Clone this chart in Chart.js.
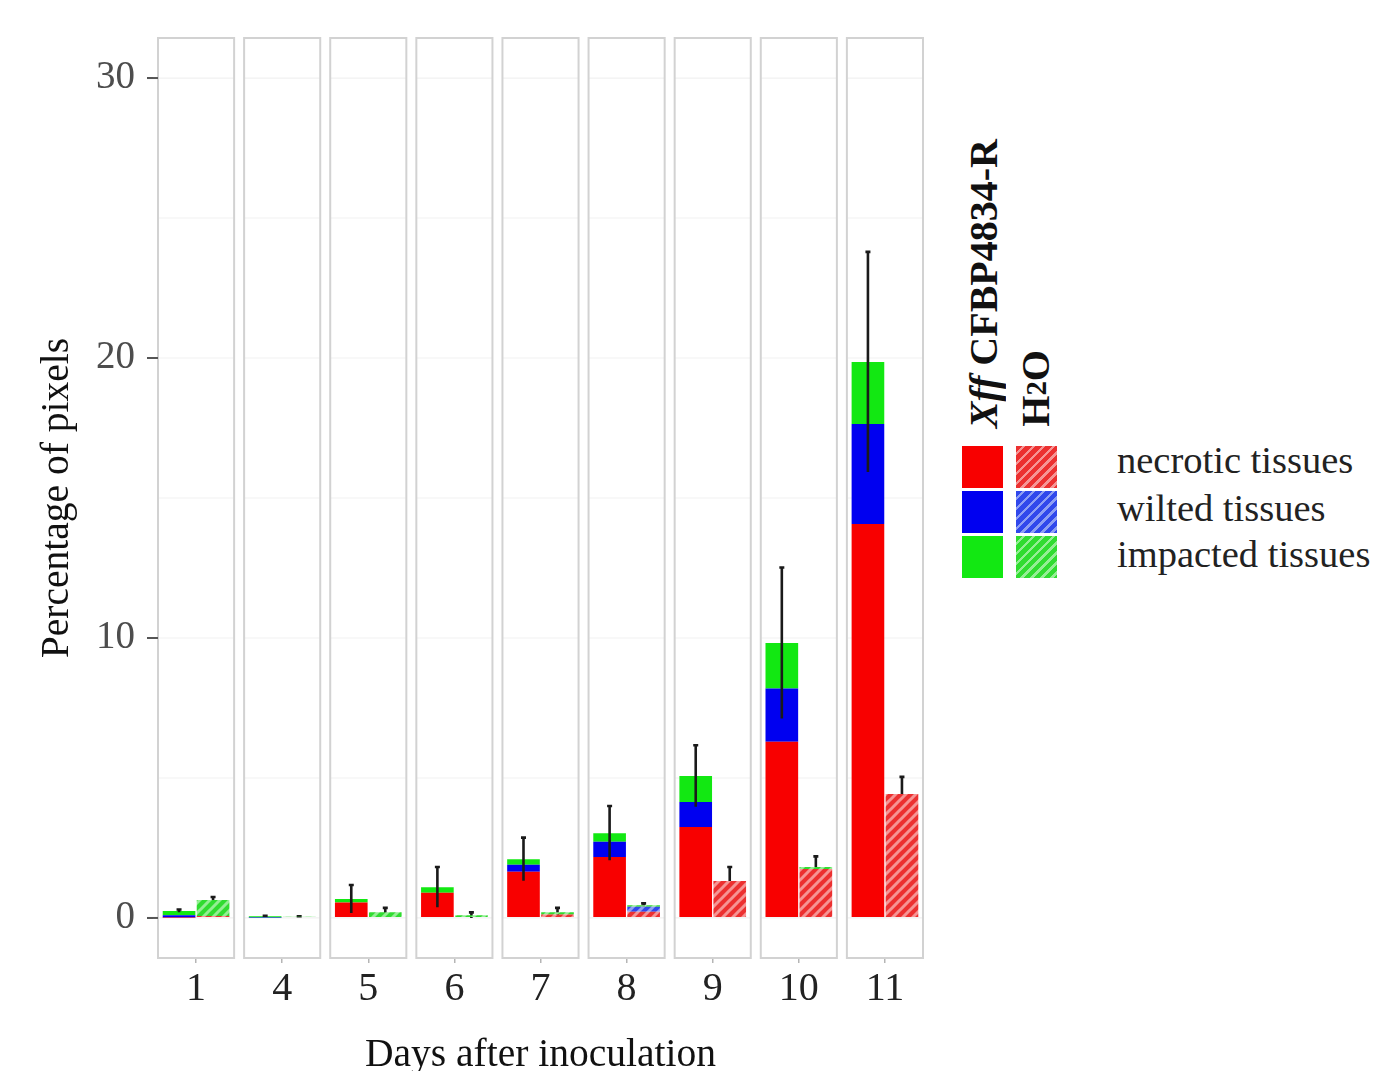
<!DOCTYPE html>
<html>
<head>
<meta charset="utf-8">
<title>Percentage of pixels by day</title>
<script src="https://cdn.jsdelivr.net/npm/chart.js@4.4.1/dist/chart.umd.min.js"></script>
<style>
    body {
        margin: 0;
        background: #fff;
        width: 1374px;
        height: 1071px;
        overflow: hidden;
        position: relative;
        font-family: 'Liberation Serif', 'Times New Roman', serif;
    }
    #js--chart { position: absolute; left: 0; top: 0; }
    .legend-title {
        position: absolute;
        font-weight: bold;
        font-size: 40px;
        line-height: 1;
        color: #111;
        writing-mode: vertical-rl;
        transform: rotate(180deg);
        white-space: nowrap;
    }
    .swatch { position: absolute; width: 41px; height: 42px; }
    .legend-label {
        position: absolute;
        left: 1117px;
        font-size: 38.5px;
        line-height: 1;
        color: #222;
        white-space: nowrap;
    }
</style>
</head>
<body>
<canvas id="js--chart" width="940" height="1071"></canvas>

<div class="legend-title" style="left:964px; bottom:643px;"><i>Xff</i> CFBP4834-R</div>
<div class="legend-title" style="left:1016px; bottom:644px;">H<span style="font-size:0.72em">2</span>O</div>

<div class="swatch" id="sw-xff-0" style="left:962px; top:446px;"></div>
<div class="swatch" id="sw-xff-1" style="left:962px; top:491px;"></div>
<div class="swatch" id="sw-xff-2" style="left:962px; top:536px;"></div>
<div class="swatch" id="sw-h2o-0" style="left:1016px; top:446px;"></div>
<div class="swatch" id="sw-h2o-1" style="left:1016px; top:491px;"></div>
<div class="swatch" id="sw-h2o-2" style="left:1016px; top:536px;"></div>

<div class="legend-label" style="top:441px;">necrotic tissues</div>
<div class="legend-label" style="top:489px;">wilted tissues</div>
<div class="legend-label" style="top:535px;">impacted tissues</div>

<script>
const days = ['1', '4', '5', '6', '7', '8', '9', '10', '11'];

// Xff CFBP4834-R (mean % of pixels)
const xffNecrotic = [0.02, 0.0, 0.55, 0.9, 1.65, 2.18, 3.25, 6.29, 14.07];
const xffWilted   = [0.08, 0.02, 0.0, 0.0, 0.25, 0.54, 0.89, 1.91, 3.57];
const xffImpacted = [0.15, 0.04, 0.13, 0.2, 0.2, 0.31, 0.93, 1.62, 2.22];
const xffSd       = [0.05, 0.02, 0.5, 0.72, 0.77, 0.97, 1.1, 2.7, 3.93];

// H2O control
const h2oNecrotic = [0.07, 0.0, 0.0, 0.0, 0.12, 0.22, 1.32, 1.75, 4.43];
const h2oWilted   = [0.0, 0.0, 0.0, 0.0, 0.0, 0.18, 0.0, 0.0, 0.0];
const h2oImpacted = [0.57, 0.04, 0.2, 0.1, 0.08, 0.05, 0.0, 0.07, 0.0];
const h2oSd       = [0.11, 0.02, 0.16, 0.1, 0.16, 0.07, 0.5, 0.38, 0.61];

const tissues = ['necrotic tissues', 'wilted tissues', 'impacted tissues'];
const yTicks = [0, 10, 20, 30];

const solidColors = ['#f80000', '#0000f0', '#12e812'];
const hatchBase   = ['#ec3030', '#3048ec', '#30dc30'];
const hatchStripe = ['#f69494', '#8e9ef4', '#94ee94'];

function hatch(base, stripe) {
    const s = 10;
    const c = document.createElement('canvas');
    c.width = s;
    c.height = s;
    const g = c.getContext('2d');
    g.fillStyle = base;
    g.fillRect(0, 0, s, s);
    g.strokeStyle = stripe;
    g.lineWidth = 3;
    g.beginPath();
    g.moveTo(-1, s + 1); g.lineTo(s + 1, -1);
    g.moveTo(-2, 2); g.lineTo(2, -2);
    g.moveTo(s - 2, s + 2); g.lineTo(s + 2, s - 2);
    g.stroke();
    return c;
}

const ctx = document.getElementById('js--chart').getContext('2d');
const hatchTiles = hatchBase.map((b, i) => hatch(b, hatchStripe[i]));
const hatchPatterns = hatchTiles.map(t => ctx.createPattern(t, 'repeat'));

// legend swatches
solidColors.forEach((c, i) => {
    document.getElementById('sw-xff-' + i).style.background = c;
    document.getElementById('sw-h2o-' + i).style.background =
        `repeating-linear-gradient(135deg, ${hatchBase[i]} 0px, ${hatchBase[i]} 4.5px, ${hatchStripe[i]} 4.5px, ${hatchStripe[i]} 7px)`;
});

function sum3(a, b, c) {
    return a.map((v, i) => v + b[i] + c[i]);
}

const xffTotal = sum3(xffNecrotic, xffWilted, xffImpacted);
const h2oTotal = sum3(h2oNecrotic, h2oWilted, h2oImpacted);

function drawErrors(chart, datasetIndex, totals, sds) {
    const {ctx, scales: {y}} = chart;
    const meta = chart.getDatasetMeta(datasetIndex);
    ctx.save();
    ctx.strokeStyle = '#1a1a1a';
    ctx.lineWidth = 2.6;
    meta.data.forEach((bar, i) => {
        const top = y.getPixelForValue(totals[i] + sds[i]);
        const bottom = y.getPixelForValue(Math.max(totals[i] - sds[i], 0));
        ctx.beginPath();
        ctx.moveTo(bar.x, top);
        ctx.lineTo(bar.x, bottom);
        ctx.moveTo(bar.x - 2.5, top);
        ctx.lineTo(bar.x + 2.5, top);
        ctx.stroke();
    });
    ctx.restore();
}

const facetPanels = {
    id: 'facetPanels',
    beforeDatasetsDraw(chart) {
        const {ctx, chartArea, scales: {x, y}} = chart;
        const step = x.getPixelForValue(1) - x.getPixelForValue(0);
        const half = step / 2 - 5;
        const gridValues = [];
        yTicks.forEach((t, i) => {
            gridValues.push(t);
            if (i < yTicks.length - 1) gridValues.push((t + yTicks[i + 1]) / 2);
        });
        ctx.save();
        days.forEach((d, i) => {
            const cx = x.getPixelForValue(i);
            const left = cx - half;
            const right = cx + half;
            ctx.fillStyle = '#fff';
            ctx.fillRect(left, chartArea.top, right - left, chartArea.bottom - chartArea.top);
            ctx.strokeStyle = '#f1f1f1';
            ctx.lineWidth = 1.2;
            gridValues.forEach(v => {
                const py = y.getPixelForValue(v);
                ctx.beginPath();
                ctx.moveTo(left, py);
                ctx.lineTo(right, py);
                ctx.stroke();
            });
            ctx.strokeStyle = '#d2d2d2';
            ctx.lineWidth = 2;
            ctx.strokeRect(left, chartArea.top, right - left, chartArea.bottom - chartArea.top);
        });
        // y tick marks reach up to the first panel, like the facet axis
        ctx.strokeStyle = '#555';
        ctx.lineWidth = 2;
        const firstLeft = x.getPixelForValue(0) - half;
        yTicks.forEach(v => {
            const py = y.getPixelForValue(v);
            ctx.beginPath();
            ctx.moveTo(chartArea.left - 6, py);
            ctx.lineTo(firstLeft, py);
            ctx.stroke();
        });
        ctx.restore();
        // H2O error bars sit under the hatched bars
        drawErrors(chart, 5, h2oTotal, h2oSd);
    },
    afterDatasetsDraw(chart) {
        drawErrors(chart, 2, xffTotal, xffSd);
    }
};

const datasets = [];
[xffNecrotic, xffWilted, xffImpacted].forEach((arr, i) => {
    datasets.push({
        label: tissues[i] + ' (Xff CFBP4834-R)',
        data: arr,
        stack: 'Xff',
        backgroundColor: solidColors[i]
    });
});
[h2oNecrotic, h2oWilted, h2oImpacted].forEach((arr, i) => {
    datasets.push({
        label: tissues[i] + ' (H2O)',
        data: arr,
        stack: 'H2O',
        backgroundColor: hatchPatterns[i]
    });
});

const serif = "'Liberation Serif', 'Times New Roman', serif";

const config = {
    type: 'bar',
    data: {
        labels: days,
        datasets: datasets
    },
    options: {
        responsive: false,
        animation: false,
        barPercentage: 0.96,
        categoryPercentage: 0.79,
        layout: {
            padding: { left: 0, top: 38, right: 12, bottom: 0 }
        },
        scales: {
            x: {
                stacked: true,
                offset: true,
                border: { display: false },
                grid: {
                    offset: false,
                    drawOnChartArea: false,
                    drawTicks: true,
                    tickLength: 5,
                    color: '#b5b5b5',
                    lineWidth: 1.5
                },
                ticks: {
                    color: '#222',
                    padding: 2,
                    font: { family: serif, size: 40 }
                },
                title: {
                    display: true,
                    text: 'Days after inoculation',
                    color: '#111',
                    font: { family: serif, size: 39.5, lineHeight: 1 },
                    padding: { top: 0, bottom: -4 }
                },
                afterFit(scale) {
                    scale.height = 113;
                }
            },
            y: {
                stacked: true,
                min: -1.43,
                max: 31.43,
                border: { display: false },
                grid: {
                    drawOnChartArea: false,
                    drawTicks: true,
                    tickLength: 6,
                    color: '#555',
                    lineWidth: 2
                },
                ticks: {
                    color: '#4d4d4d',
                    padding: 12,
                    font: { family: serif, size: 39 }
                },
                afterBuildTicks(scale) {
                    scale.ticks = yTicks.map(v => ({ value: v }));
                },
                title: {
                    display: true,
                    text: 'Percentage of pixels',
                    color: '#111',
                    font: { family: serif, size: 39.5, lineHeight: 1 },
                    padding: { top: 38, bottom: 0 }
                },
                afterFit(scale) {
                    scale.width = 153;
                }
            }
        },
        plugins: {
            legend: { display: false },
            tooltip: { enabled: false }
        }
    },
    plugins: [facetPanels]
};

new Chart(ctx, config);
</script>
</body>
</html>
